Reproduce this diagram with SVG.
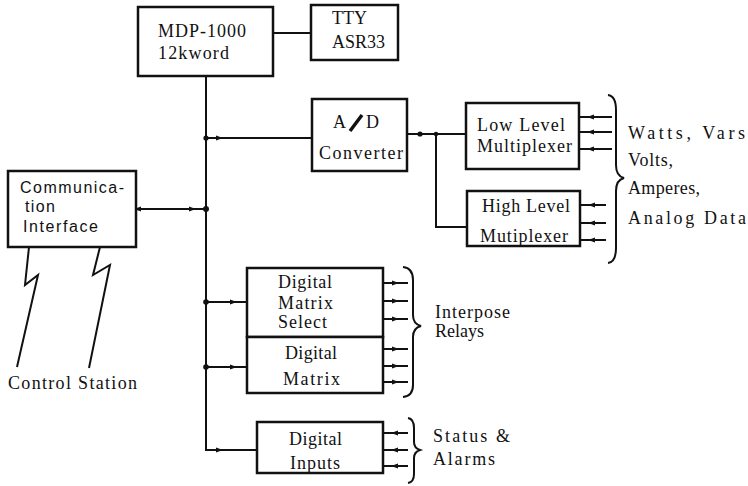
<svg xmlns="http://www.w3.org/2000/svg" width="748" height="486" viewBox="0 0 748 486">
<style>
.box{fill:#fff;stroke:#111;stroke-width:2.5}
.ln{fill:none;stroke:#111;stroke-width:2}
.br{fill:none;stroke:#111;stroke-width:2}
text{font-family:"Liberation Serif","Times New Roman",serif;font-size:18px;fill:#111}
.sans{font-family:"Liberation Sans",Arial,sans-serif;font-size:16px}
</style>
<defs>
<marker id="ah" markerWidth="8" markerHeight="6" refX="6" refY="3" orient="auto" markerUnits="userSpaceOnUse">
<path d="M0,0.5 L7,3 L0,5.5 Z" fill="#111"/>
</marker>
<marker id="ahs" markerWidth="8" markerHeight="6" refX="1" refY="3" orient="auto-start-reverse" markerUnits="userSpaceOnUse">
<path d="M0,0.5 L7,3 L0,5.5 Z" fill="#111"/>
</marker>
</defs>
<rect width="748" height="486" fill="#fff"/>

<g id="connectors">
<path class="ln" d="M273,33 L311,33"/>
<path class="ln" d="M206,76 L206,450 L220,450"/>
<path class="ln" d="M220,450 L257,450"/>
<path class="ln" d="M206,450 L222,450" marker-end="url(#ah)"/>
<path class="ln" d="M206,138 L222,138" marker-end="url(#ah)"/>
<path class="ln" d="M222,138 L312,138"/>
<path class="ln" d="M140,209 L150,209" marker-start="url(#ahs)"/>
<path class="ln" d="M150,209 L195,209" marker-end="url(#ah)"/>
<path class="ln" d="M195,209 L206,209"/>
<path class="ln" d="M206,302 L236,302" marker-end="url(#ah)"/>
<path class="ln" d="M236,302 L247,302"/>
<path class="ln" d="M206,367 L236,367" marker-end="url(#ah)"/>
<path class="ln" d="M236,367 L247,367"/>
<path class="ln" d="M407,134 L466,134"/>
<path class="ln" d="M436,134 L436,227 L467,227"/>
<circle cx="206" cy="138" r="2.6" fill="#111"/>
<circle cx="206" cy="209" r="3" fill="#111"/>
<circle cx="206" cy="302" r="2.8" fill="#111"/>
<circle cx="206" cy="367" r="2.8" fill="#111"/>
<circle cx="420" cy="134" r="2.6" fill="#111"/>
<circle cx="436" cy="134" r="2.2" fill="#111"/>
<path class="ln" d="M612,117 L588,117" marker-end="url(#ah)"/><path class="ln" d="M588,117 L579,117"/>
<path class="ln" d="M612,132 L588,132" marker-end="url(#ah)"/><path class="ln" d="M588,132 L579,132"/>
<path class="ln" d="M612,149 L588,149" marker-end="url(#ah)"/><path class="ln" d="M588,149 L579,149"/>
<path class="ln" d="M606,205 L589,205" marker-end="url(#ah)"/><path class="ln" d="M589,205 L580,205"/>
<path class="ln" d="M606,223 L589,223" marker-end="url(#ah)"/><path class="ln" d="M589,223 L580,223"/>
<path class="ln" d="M606,240 L589,240" marker-end="url(#ah)"/><path class="ln" d="M589,240 L580,240"/>
<path class="ln" d="M383,283 L398,283" marker-end="url(#ah)"/><path class="ln" d="M398,283 L408,283"/>
<path class="ln" d="M383,301 L398,301" marker-end="url(#ah)"/><path class="ln" d="M398,301 L408,301"/>
<path class="ln" d="M383,319 L398,319" marker-end="url(#ah)"/><path class="ln" d="M398,319 L408,319"/>
<path class="ln" d="M383,349 L398,349" marker-end="url(#ah)"/><path class="ln" d="M398,349 L408,349"/>
<path class="ln" d="M383,366 L398,366" marker-end="url(#ah)"/><path class="ln" d="M398,366 L408,366"/>
<path class="ln" d="M383,382 L398,382" marker-end="url(#ah)"/><path class="ln" d="M398,382 L408,382"/>
<path class="ln" d="M408,433 L392,433" marker-end="url(#ah)"/><path class="ln" d="M392,433 L383,433"/>
<path class="ln" d="M408,450 L392,450" marker-end="url(#ah)"/><path class="ln" d="M392,450 L383,450"/>
<path class="ln" d="M408,466 L392,466" marker-end="url(#ah)"/><path class="ln" d="M392,466 L383,466"/>
<path class="ln" d="M29,247 L25,285 L38,275 L17,367"/>
<path class="ln" d="M100,247 L93,275 L110,265 L89,368"/>
<path class="br" d="M608,95 Q616,96 616,110 L616,165 Q616,176 624,178 Q616,180 616,191 L616,248 Q616,262 608,263"/>
<path class="br" d="M403,267 Q413,268 413,280 L413,315 Q413,324 421,326 Q413,328 413,337 L413,385 Q413,396 403,397"/>
<path class="br" d="M408,418 Q414,419 414,428 L414,442 Q414,448 420,450 Q414,452 414,458 L414,474 Q414,482 408,483"/>
</g>

<g id="mdp">
<rect class="box" x="138" y="7" width="135" height="69"/>
<text x="158" y="37" textLength="88">MDP-1000</text>
<text x="158" y="59" textLength="71">12kword</text>
</g>
<g id="tty">
<rect class="box" x="311" y="5" width="87" height="55"/>
<text x="332" y="24">TTY</text>
<text x="332" y="48" textLength="53">ASR33</text>
</g>
<g id="adc">
<rect class="box" x="312" y="99" width="95" height="72"/>
<text x="333" y="128">A</text>
<path d="M350,131 L362,115" stroke="#111" stroke-width="3.5"/>
<text x="366" y="128">D</text>
<text x="319" y="159" textLength="84">Converter</text>
</g>
<g id="lowmux">
<rect class="box" x="466" y="103" width="113" height="66"/>
<text x="477" y="131" textLength="88">Low Level</text>
<text x="477" y="152" textLength="95">Multiplexer</text>
</g>
<g id="highmux">
<rect class="box" x="467" y="191" width="113" height="55"/>
<text x="482" y="212" textLength="88">High Level</text>
<text x="480" y="242" textLength="88">Mutiplexer</text>
</g>
<g id="analog-label">
<text x="628" y="139" textLength="117">Watts, Vars</text>
<text x="628" y="166" textLength="45">Volts,</text>
<text x="628" y="194" textLength="72">Amperes,</text>
<text x="628" y="224" textLength="118">Analog Data</text>
</g>
<g id="comm">
<rect class="box" x="8" y="171" width="128" height="76"/>
<text class="sans" x="20" y="193" textLength="104">Communica-</text>
<text class="sans" x="25" y="212" textLength="30">tion</text>
<text class="sans" x="23" y="232" textLength="75">Interface</text>
</g>
<g id="control-station">
<text x="8" y="389" textLength="129">Control Station</text>
</g>
<g id="dms">
<rect class="box" x="247" y="268" width="136" height="69"/>
<text x="278" y="288" textLength="54" font-size="17">Digital</text>
<text x="278" y="309" textLength="55" font-size="17">Matrix</text>
<text x="278" y="328" textLength="49" font-size="17">Select</text>
</g>
<g id="dm">
<rect class="box" x="247" y="337" width="136" height="56"/>
<text x="285" y="359" textLength="52">Digital</text>
<text x="283" y="385" textLength="57">Matrix</text>
</g>
<g id="relays-label">
<text x="435" y="318" textLength="75" font-size="17">Interpose</text>
<text x="435" y="337" font-size="16">Relays</text>
</g>
<g id="di">
<rect class="box" x="257" y="422" width="126" height="51"/>
<text x="289" y="445" textLength="53">Digital</text>
<text x="290" y="469" textLength="50">Inputs</text>
</g>
<g id="status-label">
<text x="433" y="442" textLength="77">Status &amp;</text>
<text x="433" y="465" textLength="62">Alarms</text>
</g>
</svg>
